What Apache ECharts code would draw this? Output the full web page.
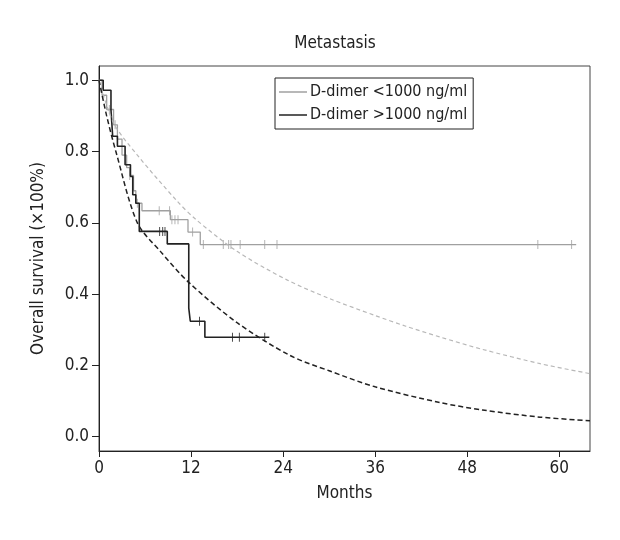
<!DOCTYPE html>
<html>
<head>
<meta charset="utf-8">
<script src="https://cdn.jsdelivr.net/npm/echarts@6/dist/echarts.min.js"></script>
<style>
  html, body { margin: 0; padding: 0; background: #fff; }
  #chart { width: 620px; height: 540px; }
</style>
</head>
<body>
<div id="chart"></div>
<script>
// Kaplan-Meier steps: [month, survival]
const lowSteps = [
  [0, 1.0], [0.4, 0.958], [1.0, 0.918], [1.9, 0.875], [2.4, 0.835], [3.0, 0.79],
  [3.6, 0.755], [4.0, 0.733], [4.5, 0.69], [4.8, 0.655], [5.6, 0.634], [9.3, 0.609],
  [11.6, 0.574], [13.2, 0.539], [62.2, 0.539]
]
const lowCensor = [
  [1.35, 0.918], [2.1, 0.875], [4.0, 0.733], [5.0, 0.655], [7.85, 0.634], [9.2, 0.634],
  [9.5, 0.609], [9.9, 0.609], [10.3, 0.609], [12.2, 0.574], [13.6, 0.539], [16.2, 0.539],
  [16.9, 0.539], [17.2, 0.539], [18.4, 0.539], [21.6, 0.539], [23.2, 0.539],
  [57.2, 0.539], [61.6, 0.539]
]
const highSteps = [
  [0, 1.0], [0.55, 0.972], [1.56, 0.918], [1.78, 0.843], [2.4, 0.815], [3.4, 0.763],
  [4.1, 0.73], [4.4, 0.679], [4.8, 0.655], [5.25, 0.576], [8.9, 0.541], [11.7, 0.361],
  [11.9, 0.324], [13.8, 0.279], [22.2, 0.279]
]
const highCensor = [
  [7.9, 0.576], [8.3, 0.576], [8.6, 0.576], [13.1, 0.324], [17.4, 0.279],
  [18.3, 0.279], [21.6, 0.279]
]
// fitted curves
const lowFit = [
  [0, 1.0], [1.9, 0.88], [5, 0.79], [10.1, 0.663], [12.6, 0.61], [18, 0.52], [24.5, 0.44],
  [30, 0.388], [36, 0.34], [40, 0.31], [44.4, 0.28], [50, 0.245], [57.5, 0.205], [64, 0.177]
]
const highFit = [
  [0, 1.0], [1, 0.9], [2.2, 0.8], [5.0, 0.6], [8, 0.52], [11.7, 0.433], [18, 0.32],
  [24.9, 0.228], [30, 0.185], [36, 0.14], [44.4, 0.096], [50, 0.075], [57.5, 0.055], [64, 0.045]
]
const xTicks = [0, 12, 24, 36, 48, 60]
const yTicks = [0, 0.2, 0.4, 0.6, 0.8, 1.0]
const names = ['D-dimer <1000 ng/ml', 'D-dimer >1000 ng/ml']

const font = "'DejaVu Sans Condensed', 'Liberation Sans Narrow', sans-serif"
const chart = echarts.init(document.getElementById('chart'))

const tickMark = { symbol: 'rect', symbolSize: [1, 9] }

chart.setOption({
  animation: false,
  title: {
    text: 'Metastasis',
    left: 330,
    top: 30,
    textAlign: 'center',
    textStyle: { fontFamily: font, fontSize: 17, fontWeight: 'normal', color: '#222' }
  },
  legend: {
    orient: 'vertical',
    left: 275,
    top: 78,
    data: names,
    icon: 'rect',
    itemWidth: 28,
    itemHeight: 1.5,
    itemGap: 7,
    padding: [6, 6, 6, 4],
    borderColor: '#222',
    borderWidth: 1,
    textStyle: { fontFamily: font, fontSize: 16, color: '#222', padding: [0, 0, 0, -2] }
  },
  grid: {
    left: 99, right: 30, top: 66, bottom: 89,
    show: true, borderColor: '#444', borderWidth: 1
  },
  xAxis: {
    type: 'value',
    min: 0, max: 64,
    name: 'Months',
    nameLocation: 'middle',
    nameGap: 34,
    nameTextStyle: { fontFamily: font, fontSize: 17, color: '#222' },
    axisLine: { onZero: false, lineStyle: { color: '#222' } },
    axisTick: { show: true, length: 6, customValues: xTicks, lineStyle: { color: '#222' } },
    axisLabel: { customValues: xTicks, fontFamily: font, fontSize: 17, color: '#222', margin: 9 },
    splitLine: { show: false }
  },
  yAxis: {
    type: 'value',
    min: -0.04, max: 1.04,
    name: 'Overall survival (\u00d7100%)',
    nameLocation: 'middle',
    nameGap: 52,
    nameTextStyle: { fontFamily: font, fontSize: 17, color: '#222' },
    axisLine: { show: true, onZero: false, lineStyle: { color: '#222' } },
    axisTick: { show: true, length: 7, customValues: yTicks, lineStyle: { color: '#222' } },
    axisLabel: {
      customValues: yTicks, fontFamily: font, fontSize: 17, color: '#222', margin: 10,
      formatter: v => v.toFixed(1)
    },
    splitLine: { show: false }
  },
  series: [
    {
      name: names[0], type: 'line', step: 'end', data: lowSteps, symbol: 'none',
      lineStyle: { color: '#a0a0a0', width: 1.3 }, itemStyle: { color: '#a0a0a0' }
    },
    {
      name: names[1], type: 'line', step: 'end', data: highSteps, symbol: 'none',
      lineStyle: { color: '#222', width: 1.6 }, itemStyle: { color: '#222' }
    },
    {
      type: 'scatter', data: lowCensor, ...tickMark,
      itemStyle: { color: '#a0a0a0' }
    },
    {
      type: 'scatter', data: highCensor, ...tickMark,
      itemStyle: { color: '#222' }
    },
    {
      type: 'line', data: lowFit, smooth: 0.3, symbol: 'none',
      lineStyle: { color: '#b8b8b8', width: 1.2, type: [4, 3] }
    },
    {
      type: 'line', data: highFit, smooth: 0.3, symbol: 'none',
      lineStyle: { color: '#222', width: 1.5, type: [5, 3] }
    }
  ]
})
</script>
</body>
</html>
